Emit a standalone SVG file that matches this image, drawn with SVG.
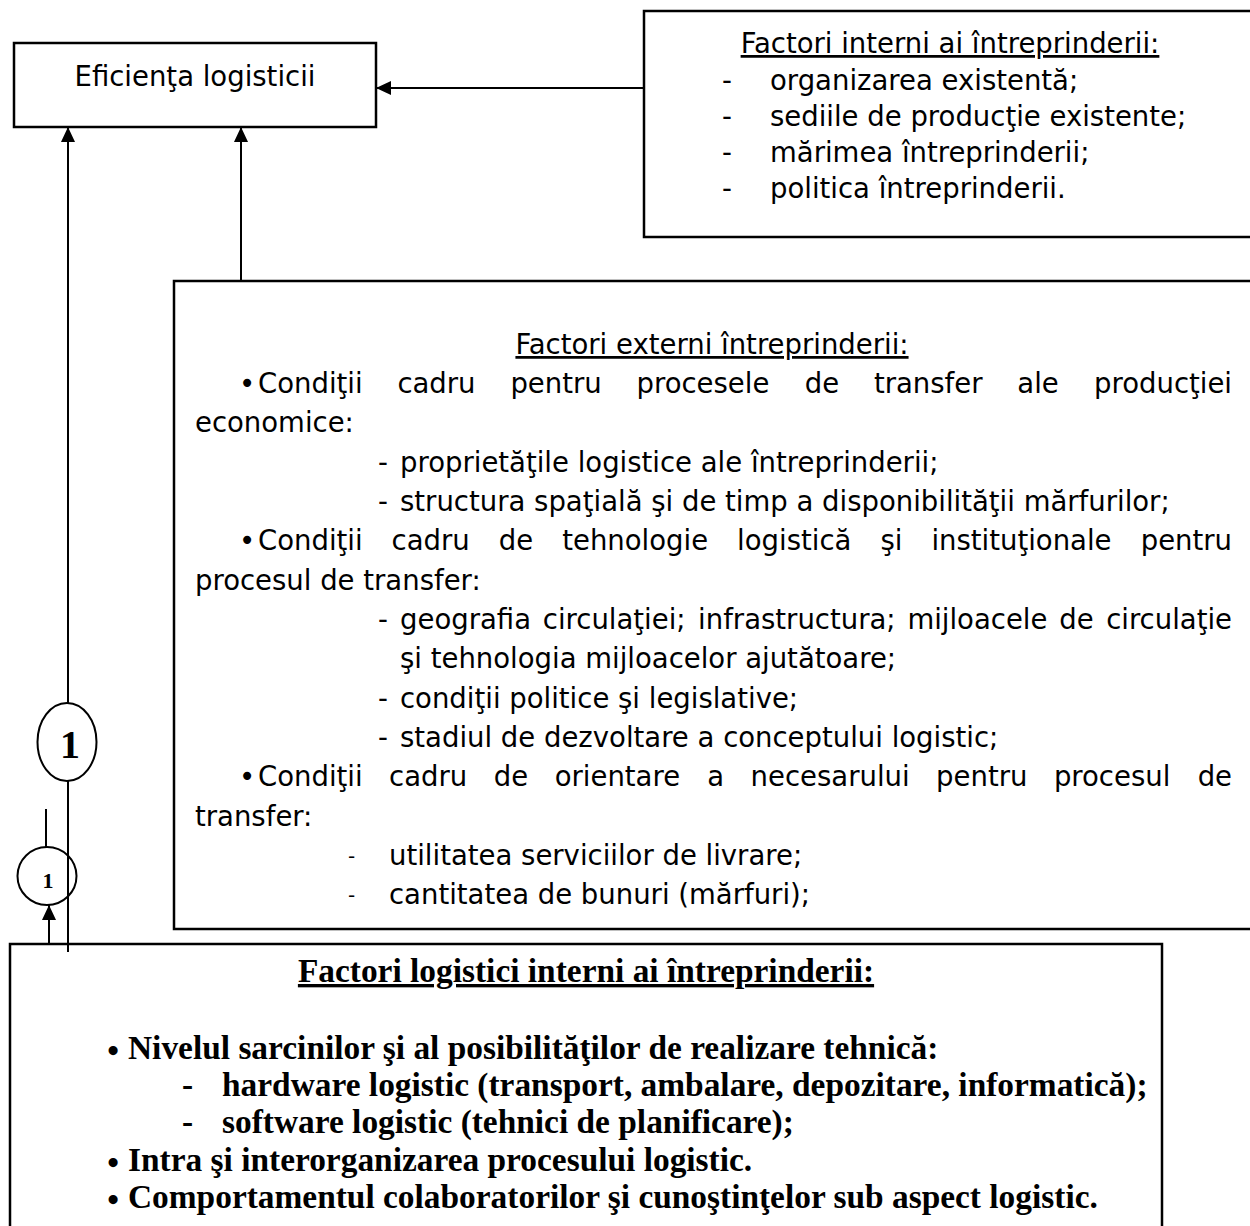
<svg xmlns="http://www.w3.org/2000/svg" width="1250" height="1226" viewBox="0 0 1250 1226">
<style>
.box{fill:#fff;stroke:#000;stroke-width:2.5}
.t{font-family:"DejaVu Sans",Verdana,sans-serif;font-size:27.5px;fill:#000}
.sd{font-family:"DejaVu Sans",Verdana,sans-serif;font-size:20px;fill:#000}
.b{font-family:"Liberation Serif","Times New Roman",serif;font-weight:bold;font-size:33.4px;fill:#000}
.u{text-decoration:underline}
.m{text-anchor:middle}
.e{text-anchor:end}
.c{stroke:#000;stroke-width:2;fill:none}
.circ{stroke:#000;stroke-width:2}
</style>
<defs>
<marker id="ah" viewBox="0 0 15 14" refX="15" refY="7" markerWidth="15" markerHeight="14" markerUnits="userSpaceOnUse" orient="auto">
<path d="M0,0 L15,7 L0,14 z" fill="#000"/>
</marker>
</defs>

<g id="node-eficienta">
<rect class="box" x="14" y="43" width="362" height="84"/>
<text class="t m" x="195" y="86">Eficienţa logisticii</text>
</g>

<g id="node-factori-interni">
<rect class="box" x="644" y="11" width="700" height="226"/>
<text class="t m u" x="950" y="53">Factori interni ai întreprinderii:</text>
<text class="t" x="722" y="90">-</text><text class="t" x="770" y="90">organizarea existentă;</text>
<text class="t" x="722" y="126">-</text><text class="t" x="770" y="126">sediile de producţie existente;</text>
<text class="t" x="722" y="162">-</text><text class="t" x="770" y="162">mărimea întreprinderii;</text>
<text class="t" x="722" y="198">-</text><text class="t" x="770" y="198">politica întreprinderii.</text>
</g>

<g id="node-factori-externi">
<rect class="box" x="174" y="281" width="1100" height="648"/>
<text class="t m u" x="712" y="354">Factori externi întreprinderii:</text>
<text class="t m" x="247" y="393">•</text>
<text class="t" y="393"><tspan x="258">Condiţii</tspan><tspan x="397.4">cadru</tspan><tspan x="510.4">pentru</tspan><tspan x="636.5">procesele</tspan><tspan x="804.7">de</tspan><tspan x="873.9">transfer</tspan><tspan x="1017.3">ale</tspan></text>
<text class="t e" x="1232" y="393">producţiei</text>
<text class="t" x="195" y="432">economice:</text>
<text class="t" x="378" y="472">-</text><text class="t" x="400" y="472">proprietăţile logistice ale întreprinderii;</text>
<text class="t" x="378" y="511">-</text><text class="t" x="400" y="511">structura spaţială şi de timp a disponibilităţii mărfurilor;</text>
<text class="t m" x="247" y="550">•</text>
<text class="t" y="550"><tspan x="258">Condiţii</tspan><tspan x="391.6">cadru</tspan><tspan x="498.8">de</tspan><tspan x="562.2">tehnologie</tspan><tspan x="737.1">logistică</tspan><tspan x="880.4">şi</tspan><tspan x="931.4">instituţionale</tspan></text>
<text class="t e" x="1232" y="550">pentru</text>
<text class="t" x="195" y="590">procesul de transfer:</text>
<text class="t" x="378" y="629">-</text>
<text class="t" y="629"><tspan x="400">geografia</tspan><tspan x="542.8">circulaţiei;</tspan><tspan x="698.1">infrastructura;</tspan><tspan x="907.4">mijloacele</tspan><tspan x="1059.3">de</tspan></text>
<text class="t e" x="1232" y="629">circulaţie</text>
<text class="t" x="400" y="668">şi tehnologia mijloacelor ajutătoare;</text>
<text class="t" x="378" y="708">-</text><text class="t" x="400" y="708">condiţii politice şi legislative;</text>
<text class="t" x="378" y="747">-</text><text class="t" x="400" y="747">stadiul de dezvoltare a conceptului logistic;</text>
<text class="t m" x="247" y="786">•</text>
<text class="t" y="786"><tspan x="258">Condiţii</tspan><tspan x="389.1">cadru</tspan><tspan x="493.8">de</tspan><tspan x="554.7">orientare</tspan><tspan x="707.2">a</tspan><tspan x="750.6">necesarului</tspan><tspan x="936.1">pentru</tspan><tspan x="1053.9">procesul</tspan></text>
<text class="t e" x="1232" y="786">de</text>
<text class="t" x="195" y="826">transfer:</text>
<text class="sd" x="348" y="863">-</text><text class="t" x="389" y="865">utilitatea serviciilor de livrare;</text>
<text class="sd" x="348" y="902">-</text><text class="t" x="389" y="904">cantitatea de bunuri (mărfuri);</text>
</g>

<g id="node-factori-logistici">
<rect class="box" x="10" y="944" width="1152" height="400"/>
<text class="b m u" x="586" y="982">Factori logistici interni ai întreprinderii:</text>
<text class="b m" x="113" y="1062">•</text><text class="b" x="128" y="1059">Nivelul sarcinilor şi al posibilităţilor de realizare tehnică:</text>
<text class="b" x="182" y="1096">-</text><text class="b" x="222" y="1096">hardware logistic (transport, ambalare, depozitare, informatică);</text>
<text class="b" x="182" y="1133">-</text><text class="b" x="222" y="1133">software logistic (tehnici de planificare);</text>
<text class="b m" x="113" y="1174">•</text><text class="b" x="128" y="1171">Intra şi interorganizarea procesului logistic.</text>
<text class="b m" x="113" y="1211">•</text><text class="b" x="128" y="1208">Comportamentul colaboratorilor şi cunoştinţelor sub aspect logistic.</text>
</g>

<g id="connectors">
<path class="c" d="M644,88 H376" marker-end="url(#ah)"/>
<path class="c" d="M241,281 V127" marker-end="url(#ah)"/>
<path class="c" d="M68,952 V127" marker-end="url(#ah)"/>
<path class="c" d="M46,809 V847"/>
<path class="c" d="M49,944 V905" marker-end="url(#ah)"/>
</g>

<g id="connector-1-large">
<ellipse class="circ" cx="67" cy="742" rx="29.5" ry="39" fill="#fff"/>
<text class="b m" x="70" y="758" style="font-size:40px">1</text>
</g>
<g id="connector-1-small">
<ellipse class="circ" cx="47" cy="876" rx="29.5" ry="29" fill="none"/>
<text class="b m" x="48" y="888" style="font-size:22px">1</text>
</g>
</svg>
